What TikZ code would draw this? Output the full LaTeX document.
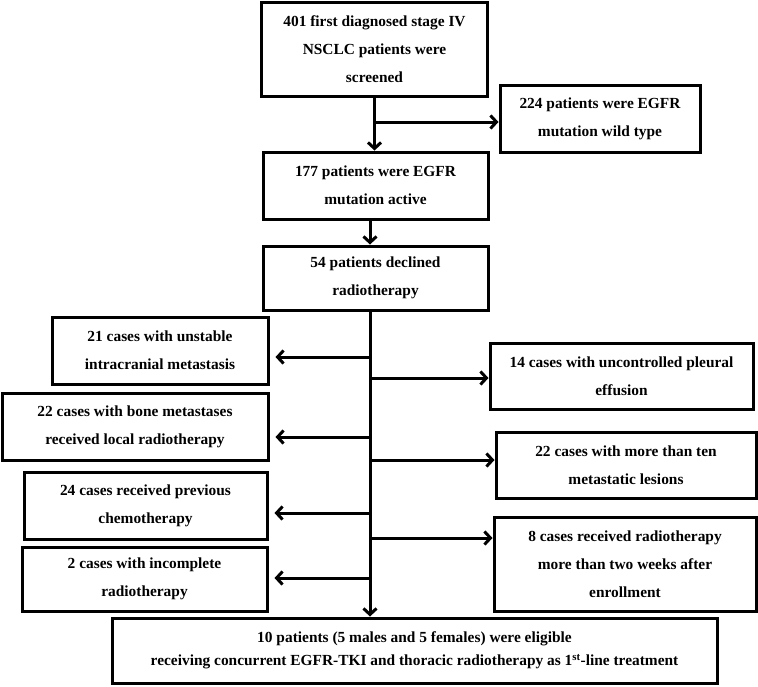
\documentclass[tikz,border=0pt]{standalone}
\usepackage{fontspec}
\setmainfont{Liberation Serif}
\usetikzlibrary{arrows.meta,positioning}

\begin{document}
\begin{tikzpicture}[x=1pt, y=-1pt,
    box/.style={draw, line width=3pt, align=center, inner sep=0pt, font=\fontsize{15.4}{28}\selectfont\bfseries},
    arr/.style={line width=3pt, -{Straight Barb[length=6pt,width=13pt]}}]
    \useasboundingbox (0,0) rectangle (758,686);
    % main column
    \node[box, minimum width=226pt, minimum height=94pt] (screened) at (374.5,49) {401 first diagnosed stage IV\\NSCLC patients were\\screened};
    \node[box, minimum width=200pt, minimum height=67pt] (wild) at (600,118.5) {224 patients were EGFR\\mutation wild type};
    \node[box, minimum width=225pt, minimum height=67pt] (active) at (375.5,185.5) {177 patients were EGFR\\mutation active};
    \node[box, minimum width=225pt, minimum height=64pt] (declined) at (375.5,278) {54 patients declined\\radiotherapy};
    % exclusions, left
    \node[box, minimum width=216pt, minimum height=67pt] (brain) at (160,350.5) {21 cases with unstable\\intracranial metastasis};
    \node[box, minimum width=266pt, minimum height=67pt] (bone) at (135,426.5) {22 cases with bone metastases\\received local radiotherapy};
    \node[box, minimum width=243pt, minimum height=67pt] (chemo) at (145.5,505.5) {24 cases received previous\\chemotherapy};
    \node[box, minimum width=245pt, minimum height=64pt] (incomplete) at (144.5,579) {2 cases with incomplete\\radiotherapy};
    % exclusions, right
    \node[box, minimum width=263pt, minimum height=66pt] (pleural) at (621.5,376) {14 cases with uncontrolled pleural\\effusion};
    \node[box, minimum width=260pt, minimum height=66pt] (lesions) at (626,465) {22 cases with more than ten\\metastatic lesions};
    \node[box, minimum width=262pt, minimum height=94pt] (late) at (625,564) {8 cases received radiotherapy\\more than two weeks after\\enrollment};
    % eligible
    \node[box, minimum width=605pt, minimum height=65pt, font=\fontsize{15.4}{23}\selectfont\bfseries] (eligible) at (414.5,650.5) {10 patients (5 males and 5 females) were eligible\\receiving concurrent EGFR-TKI and thoracic radiotherapy as 1\textsuperscript{st}-line treatment};

    % junctions on the spine
    \coordinate (jwild) at (375,122);
    \coordinate (spine) at (370,0);
    \coordinate (jbrain) at (370,357);
    \coordinate (jpleural) at (370,378);
    \coordinate (jbone) at (370,437);
    \coordinate (jlesions) at (370,460);
    \coordinate (jchemo) at (370,513);
    \coordinate (jlate) at (370,538);
    \coordinate (jincomplete) at (370,578);

    \draw[arr] (screened.south) -- (screened.south |- active.north);
    \draw[arr] (jwild) -- (jwild -| wild.west);
    \draw[arr] (active.south -| spine) -- (declined.north -| spine);
    \draw[arr] (declined.south -| spine) -- (eligible.north -| spine);
    \draw[arr, shorten >=6pt] (jbrain) -- (jbrain -| brain.east);
    \draw[arr, shorten >=6pt] (jbone) -- (jbone -| bone.east);
    \draw[arr, shorten >=6pt] (jchemo) -- (jchemo -| chemo.east);
    \draw[arr, shorten >=6pt] (jincomplete) -- (jincomplete -| incomplete.east);
    \draw[arr] (jpleural) -- (jpleural -| pleural.west);
    \draw[arr] (jlesions) -- (jlesions -| lesions.west);
    \draw[arr] (jlate) -- (jlate -| late.west);
\end{tikzpicture}
\end{document}
